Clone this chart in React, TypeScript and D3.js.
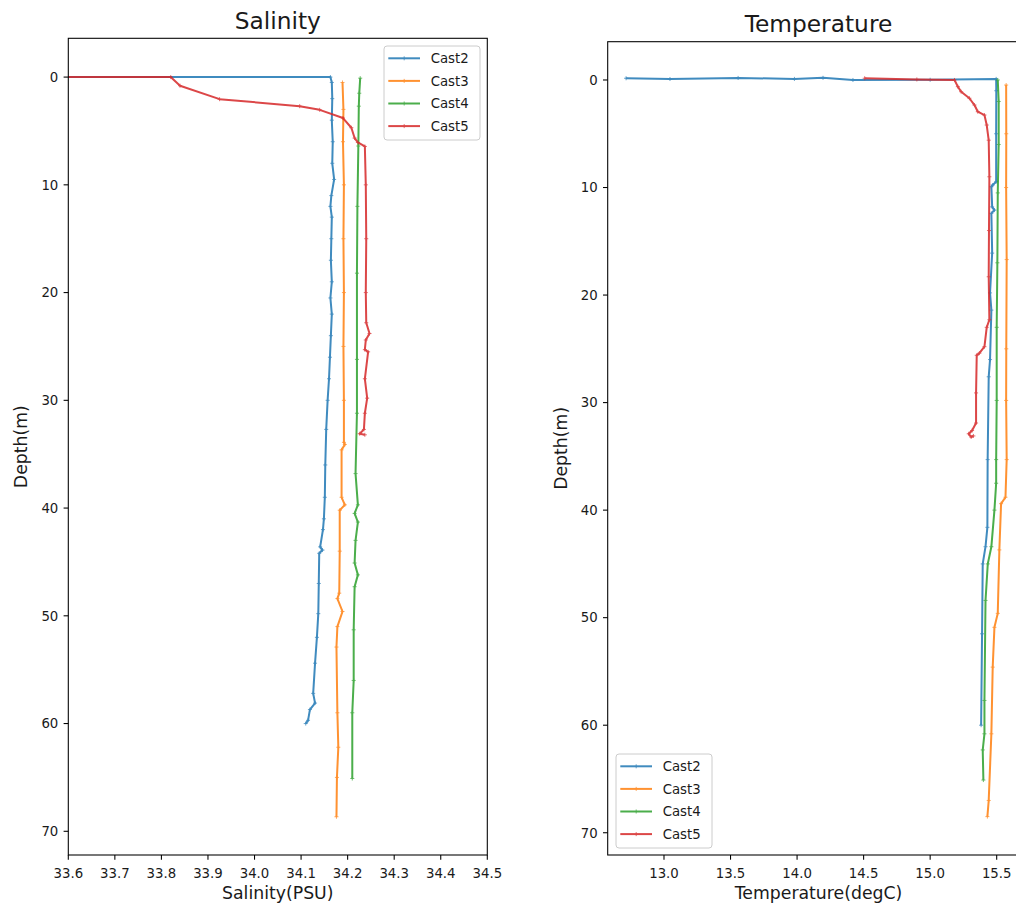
import React from "react";
import * as d3 from "d3";

// ---------- Data ----------
const castNames = ["Cast2", "Cast3", "Cast4", "Cast5"];
const castColors = ["#1f77b4", "#ff7f0e", "#2ca02c", "#d62728"];

// Salinity (PSU) profiles
const cast2SalDepth = [-0.1, 0.0, 0.5, 2.0, 4.0, 6.0, 8.0, 9.5, 11.0, 12.0, 13.0, 15.0, 17.0, 19.0, 20.5, 22.0, 24.0, 26.0, 28.0, 30.0, 32.7, 36.0, 39.0, 41.0, 42.0, 43.6, 43.9, 44.2, 47.0, 49.8, 52.0, 54.4, 57.2, 58.1, 58.7, 59.7, 60.0];
const cast2Sal = [31.0, 34.163, 34.166, 34.167, 34.166, 34.168, 34.167, 34.171, 34.165, 34.163, 34.166, 34.165, 34.164, 34.166, 34.163, 34.166, 34.164, 34.162, 34.16, 34.157, 34.154, 34.152, 34.151, 34.149, 34.147, 34.141, 34.146, 34.139, 34.138, 34.137, 34.134, 34.13, 34.126, 34.13, 34.119, 34.115, 34.11];

const cast3SalDepth = [0.5, 3, 6, 10, 15, 20, 25, 30, 33.9, 34.1, 34.6, 39, 39.7, 40.2, 44, 47.9, 48.4, 49.6, 51, 52.9, 59, 62.2, 65, 68.65];
const cast3Sal = [34.189, 34.191, 34.19, 34.192, 34.191, 34.192, 34.191, 34.192, 34.192, 34.194, 34.187, 34.187, 34.194, 34.183, 34.183, 34.182, 34.178, 34.189, 34.178, 34.176, 34.178, 34.18, 34.177, 34.176];

const cast4SalDepth = [0.1, 1.5, 2.7, 6.4, 12, 18.2, 26.2, 31.2, 36.8, 39.7, 40.5, 41.3, 43, 45.1, 46.2, 47.3, 51.3, 56, 59, 65.1];
const cast4Sal = [34.227, 34.225, 34.224, 34.223, 34.221, 34.22, 34.22, 34.22, 34.217, 34.222, 34.215, 34.222, 34.217, 34.215, 34.222, 34.215, 34.213, 34.213, 34.21, 34.21];

const cast5SalDepth = [-0.05, 0, 0.8, 2.05, 2.7, 3.04, 3.8, 4.7, 5.66, 6.07, 6.44, 10, 15, 20, 22.8, 23.8, 24.4, 25.3, 25.5, 28, 29.8, 31.2, 32.7, 33.1, 33.2];
const cast5Sal = [31.0, 33.82, 33.84, 33.925, 34.097, 34.14, 34.19, 34.208, 34.215, 34.222, 34.237, 34.239, 34.24, 34.239, 34.24, 34.247, 34.239, 34.237, 34.244, 34.237, 34.242, 34.237, 34.235, 34.226, 34.237];

// Temperature (degC) profiles
const cast2TempDepth = [-0.16, -0.09, -0.19, -0.1, -0.2, 0.0, -0.02, -0.1, 1, 5, 9.46, 9.77, 9.93, 11.8, 12.1, 12.4, 16.1, 19.8, 21.4, 26, 27.6, 35.3, 41.6, 43.4, 45, 51.5, 60];
const cast2Temp = [12.715, 13.045, 13.557, 13.98, 14.195, 14.42, 15.0, 15.496, 15.497, 15.496, 15.496, 15.47, 15.46, 15.466, 15.483, 15.46, 15.466, 15.45, 15.46, 15.45, 15.44, 15.432, 15.43, 15.416, 15.395, 15.39, 15.383];

const cast3TempDepth = [0.47, 5, 10, 16.7, 25, 29.8, 35.3, 38.8, 39.4, 43.7, 49.6, 50.9, 54.6, 60.8, 67, 68.5];
const cast3Temp = [15.571, 15.572, 15.571, 15.575, 15.572, 15.571, 15.575, 15.566, 15.533, 15.52, 15.508, 15.483, 15.47, 15.46, 15.44, 15.43];

const cast4TempDepth = [0, 2, 6, 10.5, 17, 23, 29.8, 35.3, 37.5, 40, 43.4, 45, 48.4, 57.7, 60.8, 62.3, 65.1];
const cast4Temp = [15.508, 15.515, 15.515, 15.508, 15.505, 15.5, 15.5, 15.496, 15.496, 15.483, 15.46, 15.433, 15.416, 15.408, 15.408, 15.395, 15.4];

const cast5TempDepth = [-0.16, -0.05, 0, 0.62, 1.09, 1.7, 2.33, 2.95, 3.26, 4.19, 5.6, 9, 14, 18.3, 22.3, 23, 24.8, 25.4, 25.6, 29.1, 31.9, 32.6, 32.9, 33.2, 33.1];
const cast5Temp = [14.508, 14.9, 15.183, 15.208, 15.233, 15.295, 15.333, 15.358, 15.408, 15.425, 15.44, 15.445, 15.442, 15.44, 15.445, 15.425, 15.408, 15.37, 15.35, 15.345, 15.345, 15.315, 15.29, 15.308, 15.325];

const salTicks = [33.6, 33.7, 33.8, 33.9, 34.0, 34.1, 34.2, 34.3, 34.4, 34.5];
const tempTicks = [13.0, 13.5, 14.0, 14.5, 15.0, 15.5];
const depthTicks = [0, 10, 20, 30, 40, 50, 60, 70];

const salSeries = [
  { depth: cast2SalDepth, val: cast2Sal },
  { depth: cast3SalDepth, val: cast3Sal },
  { depth: cast4SalDepth, val: cast4Sal },
  { depth: cast5SalDepth, val: cast5Sal },
];
const tempSeries = [
  { depth: cast2TempDepth, val: cast2Temp },
  { depth: cast3TempDepth, val: cast3Temp },
  { depth: cast4TempDepth, val: cast4Temp },
  { depth: cast5TempDepth, val: cast5Temp },
];

const FONT = "'DejaVu Sans', sans-serif";
const TEXT = "#1a1a1a";

type PanelProps = {
  id: string;
  left: number;
  right: number;
  top: number;
  bottom: number;
  xDomain: [number, number];
  yDomain: [number, number];
  xTicks: number[];
  xFormat: (v: number) => string;
  title: string;
  xLabel: string;
  series: { depth: number[]; val: number[] }[];
  legendPos: { x: number; y: number };
};

function Panel(p: PanelProps) {
  const x = d3.scaleLinear().domain(p.xDomain).range([p.left, p.right]);
  const y = d3.scaleLinear().domain(p.yDomain).range([p.top, p.bottom]);
  const line = d3
    .line<[number, number]>()
    .x((d) => x(d[0]))
    .y((d) => y(d[1]));
  const tickLen = 4.7;
  const cx = (p.left + p.right) / 2;
  const cy = (p.top + p.bottom) / 2;
  const legW = 96;
  const legH = 94;
  return (
    <g>
      <defs>
        <clipPath id={p.id + "-clip"}>
          <rect x={p.left} y={p.top} width={p.right - p.left} height={p.bottom - p.top} />
        </clipPath>
      </defs>
      <g clipPath={`url(#${p.id}-clip)`}>
        {p.series.map((s, i) => {
          const pts: [number, number][] = s.val.map((v, k) => [v, s.depth[k]]);
          return (
            <g key={i} opacity={0.85}>
              <path d={line(pts) || ""} fill="none" stroke={castColors[i]} strokeWidth={2} strokeLinejoin="round" />
              {pts.map((pt, k) => (
                <path
                  key={k}
                  d={`M${x(pt[0]) - 2},${y(pt[1])}h4M${x(pt[0])},${y(pt[1]) - 2}v4`}
                  stroke={castColors[i]}
                  strokeWidth={0.8}
                />
              ))}
            </g>
          );
        })}
      </g>
      {/* frame */}
      <rect x={p.left} y={p.top} width={p.right - p.left} height={p.bottom - p.top} fill="none" stroke="#000" strokeWidth={1.07} />
      {/* x ticks */}
      {p.xTicks.map((t) => (
        <g key={"x" + t}>
          <line x1={x(t)} x2={x(t)} y1={p.bottom} y2={p.bottom + tickLen} stroke="#000" strokeWidth={1.07} />
          <text x={x(t)} y={p.bottom + 23} textAnchor="middle" fontSize={13.3} fontFamily={FONT} fill={TEXT}>
            {p.xFormat(t)}
          </text>
        </g>
      ))}
      {/* y ticks */}
      {depthTicks.map((t) => (
        <g key={"y" + t}>
          <line x1={p.left - tickLen} x2={p.left} y1={y(t)} y2={y(t)} stroke="#000" strokeWidth={1.07} />
          <text x={p.left - 10} y={y(t)} dy="0.36em" textAnchor="end" fontSize={13.3} fontFamily={FONT} fill={TEXT}>
            {t}
          </text>
        </g>
      ))}
      <text x={cx} y={p.top - 9.5} textAnchor="middle" fontSize={23.3} fontFamily={FONT} fill={TEXT}>
        {p.title}
      </text>
      <text x={cx} y={899} textAnchor="middle" fontSize={17.3} fontFamily={FONT} fill={TEXT}>
        {p.xLabel}
      </text>
      <text
        transform={`translate(${p.left - 41},${cy}) rotate(-90)`}
        textAnchor="middle"
        fontSize={17.3}
        fontFamily={FONT}
        fill={TEXT}
      >
        Depth(m)
      </text>
      {/* legend */}
      <g transform={`translate(${p.legendPos.x},${p.legendPos.y})`}>
        <rect x={0} y={0} width={legW} height={legH} rx={3} fill="#fff" fillOpacity={0.8} stroke="#cccccc" strokeWidth={1} />
        {castNames.map((n, i) => {
          const ry = 12.3 + i * 22.6;
          return (
            <g key={n}>
              <g opacity={0.85}>
                <line x1={4.3} x2={36} y1={ry} y2={ry} stroke={castColors[i]} strokeWidth={2} />
                <line x1={20.2} x2={20.2} y1={ry - 2} y2={ry + 2} stroke={castColors[i]} strokeWidth={0.8} />
              </g>
              <text x={46.7} y={ry} dy="0.36em" fontSize={13.3} fontFamily={FONT} fill={TEXT}>
                {n}
              </text>
            </g>
          );
        })}
      </g>
    </g>
  );
}

export default function App() {
  return (
    <svg
      width={1016}
      height={908}
      style={{ position: "absolute", left: 0, top: 0, background: "#fff" }}
    >
      <rect x={0} y={0} width={1016} height={908} fill="#fff" />
      <Panel
        id="sal"
        left={68.3}
        right={487.3}
        top={38.3}
        bottom={855}
        xDomain={[33.6, 34.5]}
        yDomain={[-3.6, 72.2]}
        xTicks={salTicks}
        xFormat={(v) => v.toFixed(1)}
        title="Salinity"
        xLabel="Salinity(PSU)"
        series={salSeries}
        legendPos={{ x: 384, y: 46 }}
      />
      <Panel
        id="temp"
        left={607.7}
        right={1029.3}
        top={41.7}
        bottom={855}
        xDomain={[12.577, 15.745]}
        yDomain={[-3.56, 72.07]}
        xTicks={tempTicks}
        xFormat={(v) => v.toFixed(1)}
        title="Temperature"
        xLabel="Temperature(degC)"
        series={tempSeries}
        legendPos={{ x: 616, y: 754 }}
      />
    </svg>
  );
}
